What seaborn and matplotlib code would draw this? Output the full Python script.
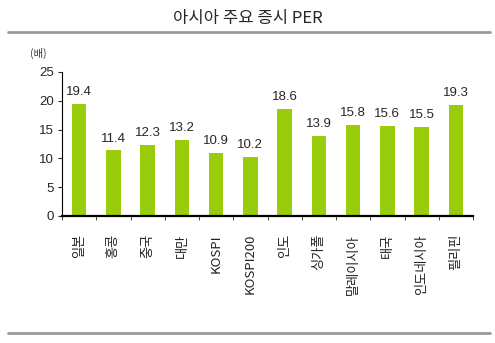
import matplotlib
matplotlib.use("Agg")
import matplotlib.pyplot as plt
import seaborn as sns
import pandas as pd
from matplotlib.lines import Line2D

categories = ["일본", "홍콩", "중국", "대만", "KOSPI", "KOSPI200", "인도", "싱가폴",
              "말레이시아", "태국", "인도네시아", "필리핀"]
values = [19.4, 11.4, 12.3, 13.2, 10.9, 10.2, 18.6, 13.9, 15.8, 15.6, 15.5, 19.3]
yticks = [0, 5, 10, 15, 20, 25]

sns.set_style("white")
plt.rcParams['font.family'] = ['Noto Sans CJK KR', 'DejaVu Sans']

df = pd.DataFrame({"cat": categories, "val": values})

fig = plt.figure(figsize=(4.95, 3.43), dpi=100)
ax = fig.add_axes([62/495, 1-216/343, (473-62)/495, (216-72)/343])
sns.barplot(data=df, x="cat", y="val", color="#99CC0A", width=0.43, ax=ax,
            saturation=1, edgecolor="none")
ax.set_xlim(-0.5, len(categories) - 0.5)
ax.set_ylim(0, 25)
ax.set_yticks(yticks)
ax.set_yticklabels([str(t) for t in yticks], fontsize=9.5, family=['Liberation Sans', 'DejaVu Sans'])
ax.set_xlabel("")
ax.set_ylabel("")
ax.set_xticks([i for i in range(len(categories))])
ax.set_xticklabels(categories, rotation=90, fontsize=9.5, color="#222222",
                   family=['Noto Sans CJK KR', 'DejaVu Sans'])
ax.tick_params(axis='x', length=0, pad=13)
ax.tick_params(axis='y', length=3, direction='out', left=True, width=0.8, pad=3)
ax.set_xticks([i - 0.5 for i in range(len(categories) + 1)], minor=True)
ax.tick_params(axis='x', which='minor', length=3, direction='out', bottom=True, width=0.6)
for s in ["top", "right"]:
    ax.spines[s].set_visible(False)
ax.spines["left"].set_color("black")
ax.spines["left"].set_linewidth(0.8)
ax.spines["bottom"].set_color("black")
ax.spines["bottom"].set_linewidth(1.6)

for i, v in enumerate(values):
    ax.text(i, v + 1.0, f"{v:.1f}", ha="center", va="bottom", fontsize=9.5,
            family=['Liberation Sans', 'DejaVu Sans'])

fig.text(0.5, 1 - 18/343, "아시아 주요 증시 PER", ha="center", va="center", fontsize=12)
fig.text(38/495, 1 - 53/343, "(배)", ha="center", va="center", fontsize=7.5, color="#333333")
fig.add_artist(Line2D([8/495, 490/495], [1 - 32/343, 1 - 32/343], color="#999999", lw=2,
                      transform=fig.transFigure))
fig.add_artist(Line2D([8/495, 490/495], [1 - 333/343, 1 - 333/343], color="#999999", lw=2,
                      transform=fig.transFigure))

fig.savefig("out.png", dpi=100)
